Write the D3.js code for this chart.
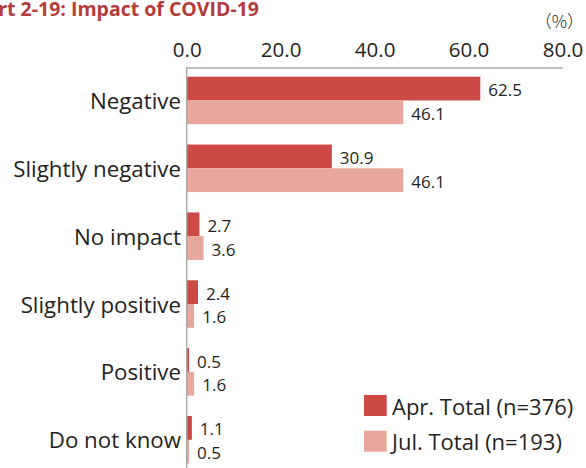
<!DOCTYPE html>
<html>
<head>
<meta charset="utf-8">
<script src="https://cdn.jsdelivr.net/npm/d3@7"></script>
<style>
  body { margin: 0; background: #fff; }
  svg { display: block; font-family: "Open Sans", sans-serif; }
</style>
</head>
<body>
<svg id="chart" width="586" height="468"></svg>
<script>
// data
var categories = ["Negative", "Slightly negative", "No impact", "Slightly positive", "Positive", "Do not know"];
var aprValues = [62.5, 30.9, 2.7, 2.4, 0.5, 1.1];
var julValues = [46.1, 46.1, 3.6, 1.6, 1.6, 0.5];
var seriesNames = ["Apr. Total (n=376)", "Jul. Total (n=193)"];
var tickValues = [0, 20, 40, 60, 80];

var colors = ["#cc4946", "#e8a79c"];
var textColor = "#231f20";
var axisColor = "#a9a9a9";

var svg = d3.select("#chart");

var x = d3.scaleLinear()
    .domain([0, 80])
    .range([186.7, 562.5]);

var y = d3.scaleBand()
    .domain(categories)
    .range([66.5, 473.7])
    .paddingInner(0.3)
    .paddingOuter(0.15);

var ySeries = d3.scaleBand()
    .domain([0, 1])
    .range([0, y.bandwidth()]);

// title, partly cut off at the left like the source
svg.append("text")
    .attr("x", 259)
    .attr("y", 15.5)
    .attr("text-anchor", "end")
    .attr("fill", "#b23b3b")
    .style("font-size", "19.5px")
    .style("font-weight", "bold")
    .text("Chart 2-19: Impact of COVID-19");

svg.append("text")
    .attr("x", 584)
    .attr("y", 27.5)
    .attr("text-anchor", "end")
    .attr("fill", textColor)
    .style("font-size", "17px")
    .style("font-family", "\"Noto Sans CJK JP\", sans-serif")
    .style("font-weight", 300)
    .text("（%）");

// top axis
var xAxis = svg.append("g")
    .attr("transform", "translate(0,67.5)")
    .call(d3.axisTop(x).tickValues(tickValues).tickFormat(d3.format(".1f")).tickSize(0).tickPadding(11));
xAxis.select(".domain").attr("stroke", axisColor).attr("stroke-width", 1.5);
xAxis.selectAll("text")
    .attr("fill", textColor)
    .style("font-size", "20.5px")
    .style("font-family", "\"Open Sans\", sans-serif");

// bars
var groups = svg.append("g").selectAll("g")
    .data(categories)
    .enter().append("g")
    .attr("transform", function (d) { return "translate(0," + y(d) + ")"; });

groups.selectAll("rect")
    .data(function (d, i) { return [aprValues[i], julValues[i]]; })
    .enter().append("rect")
    .attr("x", x(0))
    .attr("y", function (d, j) { return ySeries(j); })
    .attr("width", function (d) { return x(d) - x(0); })
    .attr("height", ySeries.bandwidth())
    .attr("fill", function (d, j) { return colors[j]; });

groups.selectAll(".val")
    .data(function (d, i) { return [aprValues[i], julValues[i]]; })
    .enter().append("text")
    .attr("class", "val")
    .attr("x", function (d) { return x(d) + 8; })
    .attr("y", function (d, j) { return ySeries(j) + ySeries.bandwidth() / 2 + 1; })
    .attr("dominant-baseline", "central")
    .attr("fill", textColor)
    .style("font-size", "17px")
    .text(function (d) { return d.toFixed(1); });

// category labels
groups.append("text")
    .attr("x", 181)
    .attr("y", y.bandwidth() / 2)
    .attr("text-anchor", "end")
    .attr("dominant-baseline", "central")
    .attr("fill", textColor)
    .style("font-size", "22.3px")
    .text(function (d) { return d; });

// vertical axis line
svg.append("line")
    .attr("x1", x(0)).attr("x2", x(0))
    .attr("y1", 67).attr("y2", 468)
    .attr("stroke", axisColor)
    .attr("stroke-width", 1.5);

// legend
var legend = svg.append("g").selectAll("g")
    .data(seriesNames)
    .enter().append("g")
    .attr("transform", function (d, i) { return "translate(364," + (395 + i * 35.7) + ")"; });

legend.append("rect")
    .attr("width", 22.7)
    .attr("height", 21)
    .attr("fill", function (d, i) { return colors[i]; });

legend.append("text")
    .attr("x", 28)
    .attr("y", 10.5)
    .attr("dominant-baseline", "central")
    .attr("fill", textColor)
    .style("font-size", "22px")
    .text(function (d) { return d; });
</script>
</body>
</html>
